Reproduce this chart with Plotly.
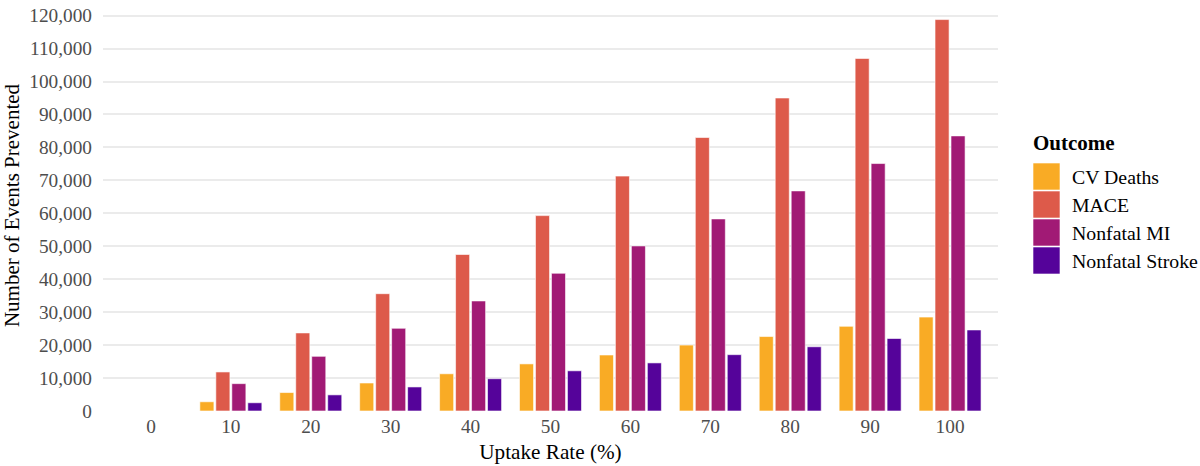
import plotly.graph_objects as go

uptake = ["0", "10", "20", "30", "40", "50", "60", "70", "80", "90", "100"]
cv_deaths = [0, 2800, 5600, 8500, 11300, 14300, 17000, 20000, 22600, 25700, 28500]
mace = [0, 11850, 23700, 35600, 47500, 59300, 71300, 83000, 95000, 107000, 118800]
nonfatal_mi = [0, 8300, 16600, 25100, 33400, 41800, 50100, 58300, 66800, 75100, 83500]
nonfatal_stroke = [0, 2500, 4900, 7300, 9800, 12200, 14600, 17100, 19500, 22000, 24600]

outcomes = ["CV Deaths", "MACE", "Nonfatal MI", "Nonfatal Stroke"]
series = [cv_deaths, mace, nonfatal_mi, nonfatal_stroke]
colors = ["#F9AB25", "#DD5A4A", "#A11A75", "#55039A"]

W, H = 1200, 466
ML, MR, MT, MB = 103, 202, 0, 55
PW, PH = W - ML - MR, H - MT - MB

def px_x(px):
    return (px - ML) / PW

def px_y(py):
    return (H - MB - py) / PH

FONT = "Liberation Serif, Times New Roman, serif"

fig = go.Figure()
for name, vals, col in zip(outcomes, series, colors):
    fig.add_trace(go.Bar(
        x=uptake, y=vals, name=name,
        marker=dict(color=col, line=dict(color="white", width=0.6)),
        showlegend=False,
    ))

ytick_vals = list(range(0, 120001, 10000))
ytick_text = [f"{v:,}" for v in ytick_vals]

fig.update_layout(
    width=W, height=H,
    margin=dict(l=ML, r=MR, t=MT, b=MB),
    paper_bgcolor="white", plot_bgcolor="white",
    barmode="group", bargap=0.2, bargroupgap=0.12,
    font=dict(family=FONT, color="#4D4D4D"),
    xaxis=dict(
        type="category", range=[-0.6, 10.6],
        showgrid=False, zeroline=False, showline=False, ticks="",
        tickfont=dict(size=19.3, color="#4D4D4D"),
        ticklabelstandoff=2,
        title=dict(text="Uptake Rate (%)", font=dict(size=21.2, color="black"), standoff=7),
    ),
    yaxis=dict(
        range=[0, 124740],
        tickvals=ytick_vals, ticktext=ytick_text,
        showgrid=True, gridcolor="#EBEBEB", gridwidth=1.6,
        zeroline=False, showline=False, ticks="",
        tickfont=dict(size=19.3, color="#4D4D4D"),
        ticklabelstandoff=10,
        title=dict(text="Number of Events Prevented", font=dict(size=21, color="black"), standoff=6),
    ),
    showlegend=False,
)

# Legend (ggplot-style keys)
annotations = [dict(
    x=px_x(1031), y=px_y(143), xref="paper", yref="paper",
    text="<b>Outcome</b>", showarrow=False, xanchor="left", yanchor="middle",
    font=dict(family=FONT, size=21, color="black"),
)]
shapes = []
top = 163
for i, (name, col) in enumerate(zip(outcomes, colors)):
    y0 = top + i * 28
    shapes.append(dict(
        type="rect", xref="paper", yref="paper",
        x0=px_x(1033), x1=px_x(1060), y0=px_y(y0), y1=px_y(y0 + 27),
        fillcolor=col, line=dict(color="white", width=0.6),
    ))
    annotations.append(dict(
        x=px_x(1070), y=px_y(y0 + 13.5), xref="paper", yref="paper",
        text=name, showarrow=False, xanchor="left", yanchor="middle",
        font=dict(family=FONT, size=19.8, color="black"),
    ))

fig.update_layout(annotations=annotations, shapes=shapes)
fig.write_html("out.html")
